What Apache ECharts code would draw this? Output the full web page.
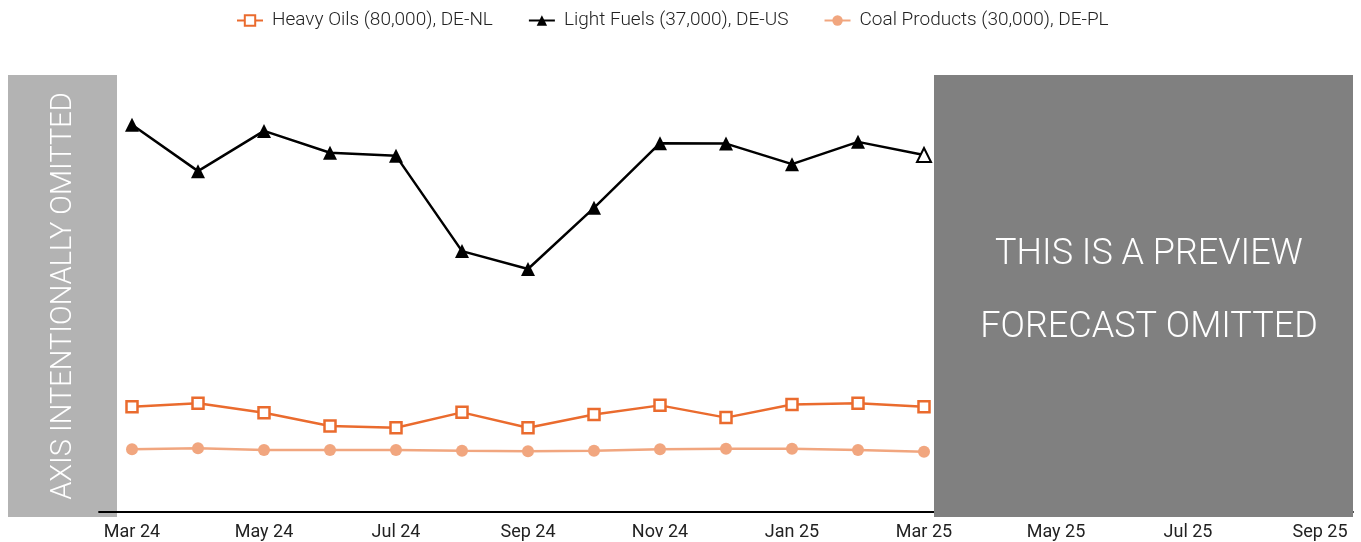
<!DOCTYPE html>
<html>
<head>
<meta charset="utf-8">
<script src="https://cdn.jsdelivr.net/npm/echarts@6/dist/echarts.min.js"></script>
<style>
  html, body { margin: 0; padding: 0; background: #fff; }
  #chart { width: 1361px; height: 542px; }
</style>
</head>
<body>
<div id="chart"></div>
<script>
// Monthly categories on the time axis
const months = ['Mar 24', 'Apr 24', 'May 24', 'Jun 24', 'Jul 24', 'Aug 24', 'Sep 24',
  'Oct 24', 'Nov 24', 'Dec 24', 'Jan 25', 'Feb 25', 'Mar 25', 'Apr 25', 'May 25',
  'Jun 25', 'Jul 25', 'Aug 25', 'Sep 25'];

// Series names
const heavyName = 'Heavy Oils (80,000), DE-NL';
const lightName = 'Light Fuels (37,000), DE-US';
const coalName = 'Coal Products (30,000), DE-PL';

// Index values (relative scale, axis hidden)
const heavyOils = [24.1, 24.9, 22.7, 19.7, 19.3, 22.8, 19.3, 22.3, 24.4, 21.6, 24.6, 24.9, 24.1];
const lightFuels = [88.6, 78.0, 87.2, 82.2, 81.5, 59.7, 55.6, 69.6, 84.4, 84.3, 79.6, 84.7, 81.7];
const coalProducts = [14.35, 14.58, 14.19, 14.19, 14.19, 14.03, 13.89, 14.03, 14.35, 14.49, 14.49, 14.19, 13.8];

const FONT = 'Roboto, "Noto Sans", sans-serif';

// Latest Light Fuels point is drawn hollow
const lightData = lightFuels.map((v, i) => i === lightFuels.length - 1
  ? { value: v, itemStyle: { color: '#fff', borderColor: '#000', borderWidth: 2 } }
  : v);

const chart = echarts.init(document.getElementById('chart'), null, { renderer: 'canvas' });

chart.setOption({
  animation: false,
  backgroundColor: '#fff',
  textStyle: { fontFamily: FONT },
  legend: {
    top: 6,
    left: 231,
    itemGap: 35,
    itemWidth: 26,
    itemHeight: 13,
    textStyle: { fontFamily: FONT, fontSize: 19, color: '#222', fontWeight: 300, padding: [0, 0, 0, 4] },
    data: [heavyName, lightName, coalName]
  },
  grid: { left: 99, right: 8, top: 75, bottom: 30 },
  xAxis: {
    type: 'category',
    data: months,
    boundaryGap: true,
    z: 10,
    axisLine: { lineStyle: { color: '#000', width: 1.8 } },
    axisTick: { show: false },
    axisLabel: { interval: 1, fontSize: 18, color: '#222', margin: 11, fontFamily: FONT }
  },
  yAxis: {
    type: 'value',
    min: 0,
    max: 100,
    show: false,
    splitLine: { show: false }
  },
  series: [
    {
      name: heavyName,
      type: 'line',
      data: heavyOils,
      symbol: 'rect',
      symbolSize: 11,
      lineStyle: { color: '#ea6b2e', width: 2.5 },
      itemStyle: { color: '#fff', borderColor: '#ea6b2e', borderWidth: 2.5 },
      z: 3
    },
    {
      name: lightName,
      type: 'line',
      data: lightData,
      symbol: 'triangle',
      symbolSize: 14,
      lineStyle: { color: '#000', width: 2.5 },
      itemStyle: { color: '#000' },
      z: 4
    },
    {
      name: coalName,
      type: 'line',
      data: coalProducts,
      symbol: 'circle',
      symbolSize: 12,
      lineStyle: { color: '#f1a67f', width: 2.5 },
      itemStyle: { color: '#f1a67f' },
      z: 2
    }
  ],
  graphic: [
    {
      type: 'rect',
      z: 5,
      shape: { x: 8, y: 75, width: 109, height: 442 },
      style: { fill: '#b3b3b3' }
    },
    {
      type: 'text',
      z: 6,
      x: 64,
      y: 296,
      rotation: Math.PI / 2,
      style: {
        text: 'AXIS INTENTIONALLY OMITTED',
        fill: '#fff',
        font: '300 29px ' + FONT,
        align: 'center',
        verticalAlign: 'middle'
      }
    },
    {
      type: 'rect',
      z: 100,
      shape: { x: 934, y: 75, width: 419, height: 442 },
      style: { fill: '#808080' }
    },
    {
      type: 'text',
      z: 101,
      x: 1149,
      y: 255,
      style: {
        text: 'THIS IS A PREVIEW',
        fill: '#fff',
        font: '300 36px ' + FONT,
        align: 'center',
        verticalAlign: 'middle'
      }
    },
    {
      type: 'text',
      z: 101,
      x: 1149,
      y: 328,
      style: {
        text: 'FORECAST OMITTED',
        fill: '#fff',
        font: '300 36px ' + FONT,
        align: 'center',
        verticalAlign: 'middle'
      }
    }
  ]
});
</script>
</body>
</html>
